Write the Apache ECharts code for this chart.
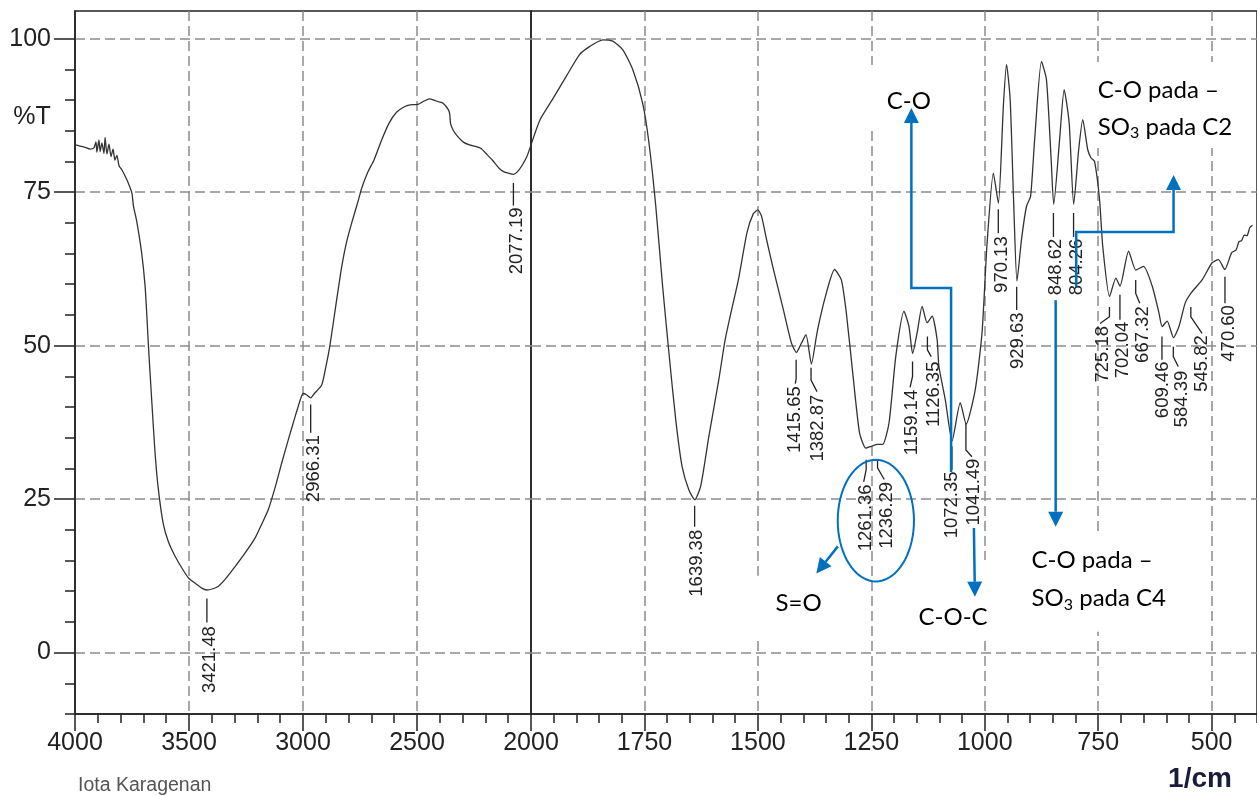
<!DOCTYPE html>
<html>
<head>
<meta charset="utf-8">
<title>Iota Karagenan</title>
<script src="https://cdn.jsdelivr.net/npm/echarts@6/dist/echarts.min.js"></script>
<style>
  html, body { margin: 0; padding: 0; background: #fff; }
  #chart { width: 1257px; height: 796px; }
</style>
</head>
<body>
<div id="chart"></div>
<script>
// spectrum: wavenumber (1/cm) and %T
const waveNumbers = [
  4000, 3978, 3956, 3934, 3917, 3908, 3904, 3895, 3890, 3882, 3873, 3868, 3860, 3851, 3842, 3833,
  3825, 3816, 3807, 3794, 3776, 3759, 3750, 3744, 3730, 3708, 3693, 3685, 3678, 3664, 3649, 3635,
  3613, 3590, 3561, 3530, 3503, 3470, 3444, 3422, 3395, 3371, 3340, 3298, 3260, 3211, 3180, 3152,
  3120, 3094, 3065, 3035, 3010, 2999, 2985, 2966, 2950, 2918, 2900, 2882, 2855, 2830, 2810, 2787,
  2757, 2743, 2715, 2689, 2655, 2623, 2590, 2555, 2530, 2496, 2470, 2446, 2420, 2404, 2387, 2362,
  2356, 2353, 2340, 2320, 2295, 2270, 2240, 2219, 2195, 2169, 2140, 2118, 2100, 2077, 2060, 2040,
  2018, 2000,
  1980, 1951, 1922, 1893, 1871, 1842, 1820, 1798, 1776, 1754, 1740, 1725, 1710, 1696, 1681, 1667,
  1652, 1639, 1626, 1608, 1586, 1572, 1561, 1543, 1524, 1510, 1500, 1492, 1480, 1466, 1444, 1426,
  1415, 1404, 1394, 1382, 1371, 1367, 1353, 1331, 1316, 1305, 1291, 1276, 1262, 1250, 1236, 1225,
  1211, 1196, 1178, 1167, 1159, 1149, 1138, 1127, 1116, 1105, 1101, 1087, 1072, 1054, 1041, 1021,
  1006, 995, 981, 970, 959, 952, 944, 936, 929, 919, 908, 899, 890, 875, 864, 854,
  848, 835, 825, 814, 804, 793, 784, 773, 766, 758, 747, 740, 725, 711, 702, 683,
  667, 650, 631, 616, 609, 598, 584, 572, 558, 545, 521, 499, 485, 471, 456, 446,
  440, 434, 428, 422, 416, 410
];
const transmittance = [
  82.7, 82.5, 82.3, 82.0, 82.2, 83.2, 81.5, 83.5, 81.6, 83.0, 81.3, 83.9, 81.2, 82.8, 80.8, 82.0,
  80.2, 81.0, 79.3, 78.6, 77.3, 75.8, 74.8, 72.8, 70.4, 65.2, 59.9, 55.0, 50.0, 41.4, 32.6, 26.8,
  21.0, 18.0, 15.7, 13.7, 12.2, 11.2, 10.5, 10.2, 10.4, 10.8, 12.0, 14.0, 15.9, 18.6, 21.0, 23.3,
  27.2, 30.8, 34.6, 38.4, 41.4, 42.2, 42.0, 41.5, 42.2, 43.6, 46.5, 50.0, 56.8, 62.9, 66.7, 69.9,
  73.7, 75.6, 78.3, 80.2, 83.5, 86.2, 88.0, 88.9, 89.2, 89.3, 89.8, 90.2, 89.9, 89.7, 89.5, 88.4,
  87.6, 86.2, 85.0, 84.0, 83.1, 82.7, 82.4, 82.1, 81.2, 80.2, 78.9, 78.3, 78.1, 77.9, 78.3, 79.3,
  80.8, 82.7,
  86.8, 90.3, 93.9, 97.4, 98.7, 99.8, 99.6, 98.2, 95.0, 89.5, 83.0, 72.7, 59.7, 48.8, 37.9, 30.3,
  26.5, 24.9, 27.1, 35.2, 44.5, 51.0, 54.8, 60.7, 68.4, 71.5, 72.1, 71.1, 67.0, 62.5, 55.9, 50.4,
  48.9, 50.4, 51.8, 47.0, 51.5, 53.1, 57.5, 62.4, 60.7, 55.3, 45.6, 35.8, 33.3, 33.6, 33.9, 33.9,
  37.4, 48.3, 55.6, 53.1, 48.7, 52.1, 56.4, 53.7, 54.8, 51.0, 46.6, 41.2, 34.5, 40.7, 37.2, 42.8,
  52.1, 66.5, 78.1, 73.2, 89.0, 95.8, 90.1, 72.7, 60.5, 67.3, 72.7, 74.3, 83.6, 96.3, 93.3, 80.8,
  73.0, 83.6, 91.7, 86.3, 73.0, 81.9, 86.8, 81.9, 80.6, 80.0, 73.8, 66.2, 58.0, 61.0, 59.7, 65.4,
  62.3, 62.9, 59.7, 55.3, 53.1, 54.0, 51.3, 53.1, 57.0, 58.6, 60.7, 63.5, 64.0, 62.4, 65.1, 65.6,
  66.9, 67.1, 68.0, 67.9, 69.2, 69.6
];

// labelled peaks
const peakWaves = [
  3421.48, 2966.31, 2077.19, 1639.38, 1415.65, 1382.87, 1261.36, 1236.29, 1159.14, 1126.35,
  1072.35, 1041.49, 970.13, 929.63, 848.62, 804.26, 725.18, 702.04, 667.32, 609.46,
  584.39, 545.82, 470.60
];

// tick labels
const xTicksLeft = [4000, 3500, 3000, 2500, 2000];
const xTicksRight = [1750, 1500, 1250, 1000, 750, 500];
const yTicks = [0, 25, 50, 75, 100];
const yMinorTicks = [-10, -5, 5, 10, 15, 20, 30, 35, 40, 45, 55, 60, 65, 70, 80, 85, 90, 95];

// where each peak's leader line and rotated label sit:
// [line top %T, line bottom %T, bend x, bend %T, text x, text top %T]
const peakLayout = [
  [8.8, 4.9, 3421.48, 4.9, 3408, 4.3],
  [40.4, 35.8, 2966.31, 35.8, 2952, 35.4],
  [76.5, 72.8, 2077.19, 72.8, 2063, 72.5],
  [23.9, 20.5, 1639.38, 20.5, 1634.5, 20.0],
  [47.7, 44.6, 1417.5, 43.8, 1418, 43.4],
  [46.4, 44.4, 1369.7, 42.5, 1367.5, 42.0],
  [31.4, 29.8, 1266.8, 27.8, 1262.5, 27.4],
  [31.4, 30.1, 1221.5, 28.2, 1216.5, 27.8],
  [47.4, 45.0, 1164.6, 43.2, 1160, 42.8],
  [51.5, 49.3, 1118, 48.2, 1112, 47.4],
  [33.6, 29.8, 1072.35, 29.8, 1071.5, 29.5],
  [37.4, 33.0, 1028.2, 31.9, 1024.5, 31.6],
  [72.2, 68.3, 970.13, 68.3, 962.6, 67.8],
  [59.6, 55.8, 929.63, 55.8, 926, 55.4],
  [71.6, 67.7, 848.62, 67.7, 842.2, 67.4],
  [71.6, 67.7, 804.26, 67.7, 797, 67.4],
  [56.3, 54.7, 745.9, 53.6, 740, 53.2],
  [58.3, 54.2, 702.04, 54.2, 696.2, 53.9],
  [60.7, 58.5, 658.4, 56.9, 652.4, 56.4],
  [51.5, 47.7, 609.46, 47.7, 607.4, 47.4],
  [49.8, 48.2, 573.6, 46.6, 565, 45.9],
  [56.3, 54.7, 521.1, 52.0, 521.1, 51.7],
  [61.2, 56.9, 470.6, 56.9, 463, 56.6]
];

// blue hand-drawn notes (wavenumber, %T)
const noteBoxes = [
  [1267, 95.7, 1057, 85.1],
  [770, 96.2, 437, 82.2],
  [1510, 12.5, 1302, 2.7],
  [1181, 15.1, 974, 2.7],
  [912, 19.2, 547, 3.4]
];
const noteArrows = [
  [[1323.7, 17.3], [1371.2, 12.9]],
  [[1074.2, 29.4], [1074.2, 59.4], [1161.7, 59.4], [1161.7, 88.7]],
  [[1023.9, 20.3], [1021.7, 9.1]],
  [[798.4, 59.6], [798.4, 68.5], [583.9, 68.5], [583.9, 77.8]],
  [[843.7, 57.4], [843.7, 20.5]]
];
const noteEllipse = [1240, 21.5, 84, 9.9];
const noteTexts = [
  { text: 'C-O', at: [1167.2, 89.8], align: 'center' },
  { text: 'S=O', at: [1410.2, 8.1], align: 'center' },
  { text: 'C-O-C', at: [1069.8, 5.8], align: 'center' },
  { text: 'C-O pada \u2013', at: [750.9, 91.6], align: 'left' },
  { text: '{n|SO}{s|3}{n| pada C2}', at: [750.9, 85.6], align: 'left' },
  { text: 'C-O pada \u2013', at: [896.9, 15.1], align: 'left' },
  { text: '{n|SO}{s|3}{n| pada C4}', at: [896.9, 8.8], align: 'left' }
];

const axisFamily = '"Liberation Sans", Arial, sans-serif';
const noteFamily = 'Lato, "Open Sans", sans-serif';
const inkColor = '#222';
const blue = '#0070c0';

const leftData = [];
const rightData = [];
waveNumbers.forEach((w, i) => {
  if (w >= 2000) leftData.push([w, transmittance[i]]);
  if (w <= 2000) rightData.push([w, transmittance[i]]);
});

const peaks = peakWaves.map((w, i) => ({ wave: w, lay: peakLayout[i] }));
const leftPeaks = peaks.filter(p => p.wave > 2000);
const rightPeaks = peaks.filter(p => p.wave < 2000);

function peakRenderer(list) {
  return function (params, api) {
    const p = list[params.dataIndex];
    const a = api.coord([p.wave, p.lay[0]]);
    const b = api.coord([p.wave, p.lay[1]]);
    const c = api.coord([p.lay[2], p.lay[3]]);
    const t = api.coord([p.lay[4], p.lay[5]]);
    return {
      type: 'group',
      children: [
        { type: 'polyline', shape: { points: [a, b, c] }, style: { stroke: inkColor, lineWidth: 1.3, fill: null } },
        {
          type: 'text', x: t[0], y: t[1], rotation: Math.PI / 2,
          style: { text: p.wave.toFixed(2), align: 'right', verticalAlign: 'middle', fontSize: 18.5, fontFamily: axisFamily, fill: inkColor }
        }
      ]
    };
  };
}

function renderBoxes(params, api) {
  return {
    type: 'group',
    children: noteBoxes.map(b => {
      const p1 = api.coord([b[0], b[1]]);
      const p2 = api.coord([b[2], b[3]]);
      return {
        type: 'rect',
        shape: { x: Math.min(p1[0], p2[0]), y: Math.min(p1[1], p2[1]), width: Math.abs(p2[0] - p1[0]), height: Math.abs(p2[1] - p1[1]) },
        style: { fill: '#fff' }
      };
    })
  };
}

function renderNotes(params, api) {
  const kids = [];
  noteArrows.forEach(arr => {
    const pts = arr.map(p => api.coord(p));
    const tip = pts[pts.length - 1];
    const prev = pts[pts.length - 2];
    const dx = tip[0] - prev[0], dy = tip[1] - prev[1];
    const len = Math.sqrt(dx * dx + dy * dy);
    const ux = dx / len, uy = dy / len;
    const head = 15, half = 7.5;
    const base = [tip[0] - ux * head, tip[1] - uy * head];
    pts[pts.length - 1] = base;
    kids.push({ type: 'polyline', shape: { points: pts }, style: { stroke: blue, lineWidth: 2.5, fill: null } });
    kids.push({
      type: 'polygon',
      shape: { points: [tip, [base[0] - uy * half, base[1] + ux * half], [base[0] + uy * half, base[1] - ux * half]] },
      style: { fill: blue }
    });
  });
  const c = api.coord([noteEllipse[0], noteEllipse[1]]);
  const r = api.size([noteEllipse[2], noteEllipse[3]]);
  const ring = [];
  for (let k = 0; k < 72; k++) {
    const ang = (k / 72) * Math.PI * 2;
    ring.push([c[0] + r[0] * Math.cos(ang), c[1] + r[1] * Math.sin(ang)]);
  }
  kids.push({ type: 'polygon', shape: { points: ring }, style: { stroke: blue, lineWidth: 2, fill: null } });
  noteTexts.forEach(n => {
    const p = api.coord(n.at);
    kids.push({
      type: 'text', x: p[0], y: p[1],
      style: {
        text: n.text, align: n.align, verticalAlign: 'middle',
        fontSize: 24, fontFamily: noteFamily, fill: '#000',
        rich: {
          n: { fontSize: 24, fontFamily: noteFamily, fill: '#000' },
          s: { fontSize: 16, fontFamily: noteFamily, fill: '#000', padding: [12, 0, 0, 0] }
        }
      }
    });
  });
  return { type: 'group', children: kids };
}

const lineColor = { color: inkColor, width: 1.5 };
const dashed = { show: true, lineStyle: { color: '#8c8c8c', type: [10, 5], width: 1.5 } };
const labelStyle = { fontFamily: axisFamily, fontSize: 25, color: inkColor, formatter: v => String(v) };

const chart = echarts.init(document.getElementById('chart'));
chart.setOption({
  animation: false,
  backgroundColor: '#fff',
  grid: [
    { left: 75, top: 11, width: 456, height: 703, show: true, borderColor: inkColor, borderWidth: 1.5 },
    { left: 531, top: 11, width: 731, height: 703, show: true, borderColor: inkColor, borderWidth: 1.5 }
  ],
  xAxis: [
    {
      gridIndex: 0, type: 'value', inverse: true, min: 2000, max: 4000, interval: 500, position: 'bottom',
      axisLine: { onZero: false, lineStyle: lineColor },
      axisTick: { length: 17, lineStyle: lineColor },
      minorTick: { show: true, splitNumber: 5, length: 9, lineStyle: lineColor },
      axisLabel: Object.assign({ margin: 17, customValues: xTicksLeft }, labelStyle),
      splitLine: Object.assign({ showMinLine: false, showMaxLine: false }, dashed)
    },
    {
      gridIndex: 1, type: 'value', inverse: true, min: 400, max: 2000, interval: 50, position: 'bottom',
      axisLine: { onZero: false, lineStyle: lineColor },
      axisTick: { length: 9, lineStyle: lineColor },
      axisLabel: { show: false },
      splitLine: { show: false }
    },
    {
      gridIndex: 1, type: 'value', inverse: true, min: 400, max: 2000, position: 'bottom',
      axisLine: { show: false, onZero: false },
      axisTick: { length: 17, lineStyle: lineColor, customValues: xTicksRight },
      axisLabel: Object.assign({ margin: 17, customValues: xTicksRight }, labelStyle),
      splitLine: dashed
    }
  ],
  yAxis: [
    {
      gridIndex: 0, type: 'value', min: -10, max: 104.5, position: 'left',
      axisLine: { show: true, onZero: false, lineStyle: lineColor },
      axisTick: { show: true, length: 10, lineStyle: lineColor, customValues: yMinorTicks },
      axisLabel: { show: false },
      splitLine: { show: false }
    },
    {
      gridIndex: 0, type: 'value', min: -10, max: 104.5, position: 'left',
      axisLine: { show: false, onZero: false },
      axisTick: { show: true, length: 21, lineStyle: lineColor, customValues: yTicks },
      axisLabel: Object.assign({ margin: 24, customValues: yTicks }, labelStyle),
      splitLine: dashed
    },
    {
      gridIndex: 1, type: 'value', min: -10, max: 104.5, position: 'left',
      axisLine: { show: false, onZero: false },
      axisTick: { show: false, customValues: yTicks },
      axisLabel: { show: false },
      splitLine: dashed
    }
  ],
  graphic: [
    { type: 'text', x: 32, y: 117, style: { text: '%T', align: 'center', verticalAlign: 'middle', fontSize: 25, fontFamily: axisFamily, fill: inkColor } },
    { type: 'text', x: 1200, y: 779, style: { text: '1/cm', align: 'center', verticalAlign: 'middle', fontSize: 28, fontWeight: 'bold', fontFamily: axisFamily, fill: '#1b1b3a' } },
    { type: 'text', x: 78, y: 786, style: { text: 'Iota Karagenan', align: 'left', verticalAlign: 'middle', fontSize: 19.5, fontFamily: axisFamily, fill: '#555' } }
  ],
  series: [
    { type: 'custom', xAxisIndex: 1, yAxisIndex: 2, z: 1, silent: true, data: [[1200, 50]], renderItem: renderBoxes },
    {
      type: 'line', xAxisIndex: 0, yAxisIndex: 0, data: leftData, symbol: 'none', smooth: 0.2,
      lineStyle: { color: '#333', width: 1.3 }, silent: true, z: 2
    },
    {
      type: 'line', xAxisIndex: 1, yAxisIndex: 2, data: rightData, symbol: 'none', smooth: 0.2,
      lineStyle: { color: '#333', width: 1.3 }, silent: true, z: 2
    },
    { type: 'custom', xAxisIndex: 0, yAxisIndex: 0, z: 3, silent: true, data: leftPeaks.map(p => [p.wave, p.lay[0]]), renderItem: peakRenderer(leftPeaks) },
    { type: 'custom', xAxisIndex: 1, yAxisIndex: 2, z: 3, silent: true, data: rightPeaks.map(p => [p.wave, p.lay[0]]), renderItem: peakRenderer(rightPeaks) },
    { type: 'custom', xAxisIndex: 1, yAxisIndex: 2, z: 4, silent: true, data: [[1200, 50]], renderItem: renderNotes }
  ]
});
</script>
</body>
</html>
